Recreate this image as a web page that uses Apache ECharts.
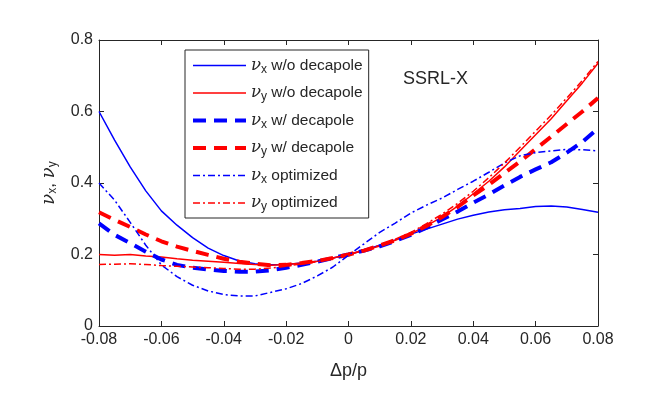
<!DOCTYPE html>
<html>
<head>
<meta charset="utf-8">
<script src="https://cdn.jsdelivr.net/npm/echarts@6/dist/echarts.min.js"></script>
<style>
  html, body { margin: 0; padding: 0; background: #fff; }
  #chart { width: 664px; height: 399px; }
</style>
</head>
<body>
<div id="chart"></div>
<script>
// momentum deviation dp/p
var dp = [-0.08, -0.075, -0.07, -0.065, -0.06, -0.055, -0.05, -0.045, -0.04, -0.035, -0.03, -0.025,
          -0.02, -0.015, -0.01, -0.005, 0, 0.005, 0.01, 0.015, 0.02, 0.025, 0.03, 0.035,
          0.04, 0.045, 0.05, 0.055, 0.06, 0.065, 0.07, 0.075, 0.08];

var nuxNoDec = [0.60, 0.52, 0.445, 0.378, 0.322, 0.282, 0.247, 0.218, 0.197, 0.182, 0.174, 0.171,
                0.172, 0.176, 0.181, 0.19, 0.2, 0.212, 0.226, 0.241, 0.257, 0.271, 0.285, 0.299,
                0.31, 0.319, 0.325, 0.329, 0.334, 0.336, 0.333, 0.326, 0.318];
var nuyNoDec = [0.20, 0.198, 0.2, 0.196, 0.193, 0.188, 0.184, 0.181, 0.178, 0.175, 0.172, 0.17,
                0.172, 0.176, 0.181, 0.19, 0.2, 0.211, 0.224, 0.24, 0.258, 0.28, 0.305, 0.335,
                0.37, 0.405, 0.445, 0.49, 0.535, 0.58, 0.63, 0.68, 0.735];
var nuxDec = [0.287, 0.255, 0.232, 0.208, 0.186, 0.171, 0.163, 0.158, 0.154, 0.152, 0.152, 0.156,
              0.163, 0.171, 0.18, 0.19, 0.2, 0.211, 0.223, 0.238, 0.255, 0.275, 0.298, 0.32,
              0.345, 0.368, 0.393, 0.417, 0.438, 0.458, 0.485, 0.515, 0.553];
var nuyDec = [0.318, 0.297, 0.277, 0.256, 0.237, 0.222, 0.21, 0.199, 0.188, 0.18, 0.174, 0.17,
              0.171, 0.176, 0.182, 0.19, 0.2, 0.211, 0.225, 0.24, 0.258, 0.28, 0.305, 0.333,
              0.365, 0.395, 0.428, 0.46, 0.495, 0.53, 0.565, 0.6, 0.638];
var nuxOpt = [0.40, 0.352, 0.29, 0.226, 0.171, 0.138, 0.114, 0.098, 0.088, 0.084, 0.084, 0.094,
              0.104, 0.119, 0.14, 0.165, 0.198, 0.23, 0.262, 0.288, 0.316, 0.338, 0.358, 0.382,
              0.405, 0.43, 0.456, 0.476, 0.485, 0.49, 0.494, 0.493, 0.49];
var nuyOpt = [0.172, 0.173, 0.174, 0.172, 0.169, 0.167, 0.165, 0.163, 0.161, 0.159, 0.159, 0.162,
              0.167, 0.174, 0.18, 0.19, 0.2, 0.212, 0.226, 0.243, 0.262, 0.286, 0.313, 0.343,
              0.377, 0.415, 0.456, 0.5, 0.545, 0.59, 0.638, 0.687, 0.74];

var names = ['νx w/o decapole', 'νy w/o decapole', 'νx w/ decapole',
             'νy w/ decapole', 'νx optimized', 'νy optimized'];
var blue = '#0000ff', red = '#ff0000', ink = '#262626';
var dashDot = [7, 3, 2, 3];
var styles = [
    { color: blue, width: 1.5, type: 'solid' },
    { color: red, width: 1.5, type: 'solid' },
    { color: blue, width: 4, type: [13, 8] },
    { color: red, width: 4, type: [13, 8] },
    { color: blue, width: 1.5, type: dashDot },
    { color: red, width: 1.5, type: dashDot }
];
var values = [nuxNoDec, nuyNoDec, nuxDec, nuyDec, nuxOpt, nuyOpt];

function pairs(ys) {
    return ys.map(function (y, i) { return [dp[i], y]; });
}
function fmt(v) {
    return String(Math.round(v * 100) / 100);
}

var series = names.map(function (n, k) {
    return {
        name: n,
        type: 'line',
        symbol: 'none',
        showSymbol: false,
        animation: false,
        color: styles[k].color,
        lineStyle: { color: styles[k].color, width: styles[k].width, type: styles[k].type, cap: 'butt' },
        data: pairs(values[k])
    };
});

function rich(main, sub) {
    return {
        nu: { fontFamily: 'DejaVu Serif', fontStyle: 'italic', fontSize: main + 1, color: ink, lineHeight: 20 },
        sub: { fontFamily: 'Liberation Sans', fontSize: sub, color: ink, lineHeight: 10, verticalAlign: 'bottom' },
        txt: { fontFamily: 'Liberation Sans', fontSize: main, color: ink, lineHeight: 20 }
    };
}

var myChart = echarts.init(document.getElementById('chart'), null, { renderer: 'canvas' });
var axisCommon = {
    type: 'value',
    axisLine: { show: true, onZero: false, lineStyle: { color: ink, width: 1 } },
    axisTick: { show: true, inside: true, length: 5, lineStyle: { color: ink } },
    splitLine: { show: false }
};
var tickFont = { formatter: fmt, fontSize: 16, color: ink, fontFamily: 'Liberation Sans', margin: 6 };

var option = {
    backgroundColor: '#fff',
    animation: false,
    grid: { left: 99, right: 66, top: 40, bottom: 73 },
    xAxis: [
        Object.assign({}, axisCommon, {
            min: -0.08, max: 0.08, interval: 0.02, position: 'bottom',
            axisLabel: tickFont,
            name: 'Δp/p', nameLocation: 'middle', nameGap: 36,
            nameTextStyle: { fontSize: 18, color: ink, fontFamily: 'Liberation Sans' }
        }),
        Object.assign({}, axisCommon, {
            min: -0.08, max: 0.08, interval: 0.02, position: 'top',
            axisLabel: { show: false }
        })
    ],
    yAxis: [
        Object.assign({}, axisCommon, {
            min: 0, max: 0.8, interval: 0.2, position: 'left',
            axisLabel: tickFont,
            name: '{nu|ν}{sub|x}{txt|, }{nu|ν}{sub|y}',
            nameLocation: 'middle', nameGap: 40, nameRotate: 90,
            nameTextStyle: { rich: rich(17, 12) }
        }),
        Object.assign({}, axisCommon, {
            min: 0, max: 0.8, interval: 0.2, position: 'right',
            axisLabel: { show: false }
        })
    ],
    legend: {
        orient: 'vertical',
        left: 185,
        top: 50,
        padding: [7, 6, 5, 6],
        itemGap: 9,
        itemWidth: 53,
        itemHeight: 14,
        borderColor: ink,
        borderWidth: 1,
        backgroundColor: '#fff',
        selectedMode: false,
        data: names.map(function (n, k) {
            return {
                name: n,
                itemStyle: { color: 'rgba(0,0,0,0)', borderWidth: 0, opacity: 0 },
                lineStyle: { color: styles[k].color, width: styles[k].width, type: styles[k].type }
            };
        }),
        formatter: function (name) {
            var m = name.match(/^ν(x|y) (.*)$/);
            return '{nu|ν}{sub|' + m[1] + '}{txt| ' + m[2] + '}';
        },
        textStyle: { rich: rich(15.5, 12) }
    },
    graphic: [{
        type: 'text',
        left: 403,
        top: 70,
        style: { text: 'SSRL-X', fontSize: 18, fill: ink, fontFamily: 'Liberation Sans' }
    }],
    series: series
};
myChart.setOption(option);
</script>
</body>
</html>
